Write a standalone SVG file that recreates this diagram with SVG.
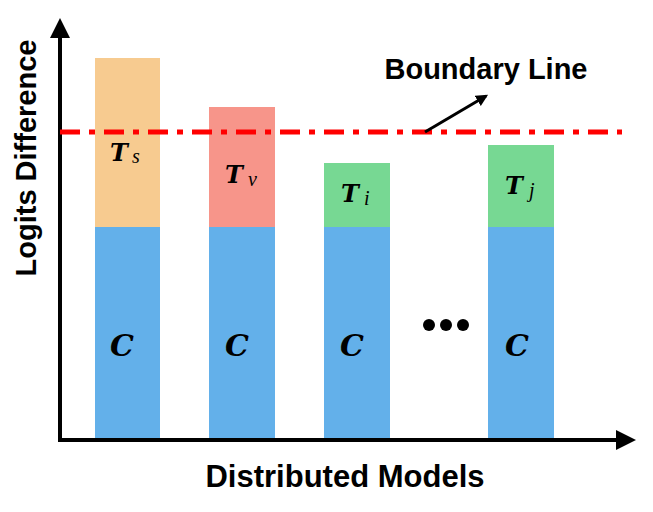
<svg xmlns="http://www.w3.org/2000/svg" width="653" height="512" viewBox="0 0 653 512">
<defs>
<style>
.ax{stroke:#000;stroke-width:4;fill:none}
.lbl{font-family:"Liberation Sans",sans-serif;font-weight:bold;fill:#000}
.sym{font-family:"DejaVu Serif","Liberation Serif",serif;font-weight:bold;font-style:italic;fill:#000}
.sub{font-family:"Liberation Serif",serif;font-style:italic;fill:#000}
</style>
<marker id="ah" viewBox="0 0 10 10" refX="8" refY="5" markerWidth="5" markerHeight="5" orient="auto"><path d="M0,0L10,5L0,10z" fill="#000"/></marker>
<marker id="ah2" viewBox="0 0 10 10" refX="8" refY="5" markerWidth="4" markerHeight="4" orient="auto"><path d="M0,0L10,5L0,10z" fill="#000"/></marker>
</defs>
<rect width="653" height="512" fill="#fff"/>
<g id="bar1"><rect x="95" y="58" width="65" height="169" fill="#F7CB90"/><rect x="95" y="227" width="65" height="213" fill="#63B0EA"/>
<text class="sym" x="110" y="161" font-size="24">T</text><text class="sub" x="132" y="163" font-size="20">s</text>
<text class="sym" x="110" y="356" font-size="30">C</text></g>
<g id="bar2"><rect x="209" y="107" width="66" height="120" fill="#F7958A"/><rect x="209" y="227" width="66" height="213" fill="#63B0EA"/>
<text class="sym" x="225" y="183" font-size="24">T</text><text class="sub" x="248" y="186" font-size="20">v</text>
<text class="sym" x="225" y="356" font-size="30">C</text></g>
<g id="bar3"><rect x="324" y="163" width="66" height="64" fill="#77D893"/><rect x="324" y="227" width="66" height="213" fill="#63B0EA"/>
<text class="sym" x="341" y="202" font-size="24">T</text><text class="sub" x="364" y="205" font-size="20">i</text>
<text class="sym" x="340" y="356" font-size="30">C</text></g>
<g id="bar4"><rect x="488" y="145" width="66" height="82" fill="#77D893"/><rect x="488" y="227" width="66" height="213" fill="#63B0EA"/>
<text class="sym" x="505" y="194" font-size="24">T</text><text class="sub" x="529" y="197" font-size="20">j</text>
<text class="sym" x="505" y="356" font-size="30">C</text></g>
<g id="dots" fill="#000"><circle cx="429" cy="325" r="6"/><circle cx="446" cy="325" r="6"/><circle cx="463" cy="325" r="6"/></g>
<g id="connectors">
<line class="ax" x1="60" y1="442" x2="60" y2="22" marker-end="url(#ah)"/>
<line class="ax" x1="58" y1="440" x2="632" y2="440" marker-end="url(#ah)"/>
<line x1="60" y1="132" x2="622" y2="132" stroke="#FF0000" stroke-width="5" stroke-dasharray="20,9,6,9"/>
<line x1="425" y1="132" x2="486" y2="96" stroke="#000" stroke-width="3" marker-end="url(#ah2)"/>
</g>
<text class="lbl" x="486" y="79" font-size="29" text-anchor="middle">Boundary Line</text>
<text class="lbl" x="345" y="487" font-size="31" text-anchor="middle">Distributed Models</text>
<text class="lbl" x="36" y="158" font-size="29" text-anchor="middle" transform="rotate(-90 36 158)">Logits Difference</text>
</svg>
